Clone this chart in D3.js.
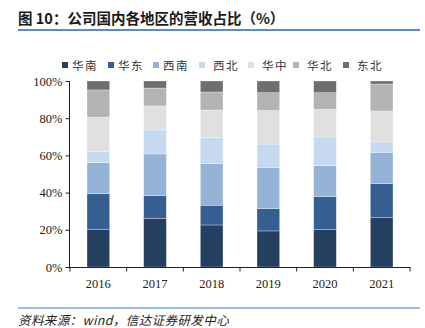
<!DOCTYPE html>
<html><head><meta charset="utf-8">
<script src="https://cdn.jsdelivr.net/npm/d3@7"></script>
<style>body{margin:0;background:#fff;}svg{display:block;}</style>
</head><body>
<svg id="c" width="425" height="328"></svg>
<script>
const years = ["2016","2017","2018","2019","2020","2021"];
const regions = ["华南","华东","西南","西北","华中","华北","东北"];
const colors = ["#243f60","#365f91","#95b3d7","#c6d9f1","#e0e0e0","#b3b3b3","#6e6e6e"];
const south      = [20.3, 26.2, 22.6, 19.4, 20.1, 26.5];
const east       = [19.1, 12.2, 10.6, 12.0, 17.7, 18.3];
const southwest  = [16.7, 22.4, 22.5, 22.2, 16.7, 16.8];
const northwest  = [5.9, 12.9, 13.8, 12.5, 15.4, 5.6];
const central    = [18.6, 12.9, 14.9, 18.0, 14.9, 16.7];
const north      = [14.6, 9.6, 9.7, 9.6, 8.9, 14.5];
const northeast  = [4.8, 3.8, 5.9, 6.3, 6.3, 1.6];
const yTicks = [0,20,40,60,80,100];
const series = [south, east, southwest, northwest, central, north, northeast];

const svg = d3.select("#c");
const x = d3.scaleBand().domain(years).range([70,410]).paddingInner(0.6).paddingOuter(0.3);
const y = d3.scaleLinear().domain([0,100]).range([267,81]);

// title
svg.append("text").attr("x",18).attr("y",24).attr("font-family","Noto Sans CJK SC")
  .attr("font-weight","bold").attr("font-size",14.5).attr("fill","#1a1a1a")
  .text("图 10：公司国内各地区的营收占比（%）");
svg.append("line").attr("x1",18).attr("x2",420).attr("y1",30).attr("y2",30)
  .attr("stroke","#5a8ccc").attr("stroke-width",2);

// stacked data
const table = years.map((yr,i)=>{const o={year:yr}; regions.forEach((r,j)=>o[r]=series[j][i]); return o;});
const stack = d3.stack().keys(regions)(table);
const g = svg.append("g");
stack.forEach((layer,j)=>{
  g.selectAll(null).data(layer).enter().append("rect")
    .attr("x",d=>x(d.data.year)).attr("width",x.bandwidth())
    .attr("y",d=>y(d[1])).attr("height",d=>y(d[0])-y(d[1]))
    .attr("fill",colors[j]).attr("stroke","#ffffff").attr("stroke-opacity",0.5).attr("stroke-width",0.6);
});

// axes
const yAxis = d3.axisLeft(y).tickValues(yTicks).tickFormat(d=>d+"%").tickSize(4).tickPadding(3);
const ya = svg.append("g").attr("transform","translate(69.5,0)").call(yAxis);
ya.selectAll("text").attr("font-family","Liberation Serif").attr("font-size",12.5).attr("fill","#222");
ya.selectAll("line,path").attr("stroke","#222");
ya.select("path").attr("d","M0,81V267");

const xb = d3.scaleLinear().domain([0,6]).range([70,410]);
const xa = svg.append("g").attr("transform","translate(0,267.5)");
xa.append("line").attr("x1",69).attr("x2",410.5).attr("stroke","#222");
xa.selectAll(null).data(d3.range(7)).enter().append("line")
  .attr("x1",d=>xb(d)).attr("x2",d=>xb(d)).attr("y1",0).attr("y2",4).attr("stroke","#222");
xa.selectAll(null).data(years).enter().append("text")
  .attr("x",d=>x(d)+x.bandwidth()/2).attr("y",20).attr("text-anchor","middle")
  .attr("font-family","Liberation Serif").attr("font-size",12.5).attr("fill","#222").text(d=>d);

// legend
const legX = [62,108,153,199,248,293,343];
const lg = svg.append("g");
regions.forEach((r,j)=>{
  lg.append("rect").attr("x",legX[j]).attr("y",62).attr("width",6).attr("height",6).attr("fill",colors[j]);
  lg.append("text").attr("x",legX[j]+(j>=3?14:10)).attr("y",69.5).attr("font-family","Noto Sans CJK SC")
    .attr("font-size",11.5).attr("letter-spacing",1.5).attr("fill","#333").text(r);
});

// footer
svg.append("line").attr("x1",18).attr("x2",420).attr("y1",308).attr("y2",308)
  .attr("stroke","#7ea6d8").attr("stroke-width",1.5);
svg.append("text").attr("x",18).attr("y",325).attr("font-family","Noto Sans CJK SC")
  .attr("font-style","italic").attr("font-size",12.5).attr("letter-spacing",0.4).attr("fill","#222")
  .text("资料来源：wind，信达证券研发中心");
</script>
</body></html>
